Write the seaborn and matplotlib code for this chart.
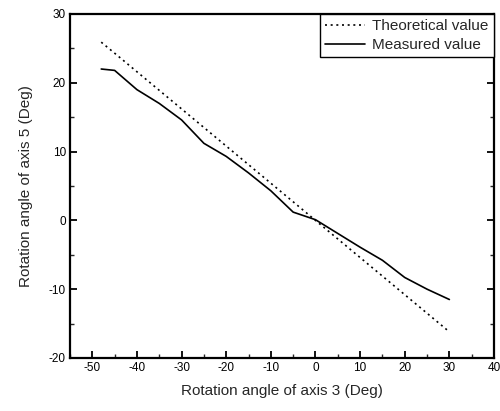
import matplotlib
matplotlib.use("Agg")
import matplotlib.pyplot as plt
import seaborn as sns
import pandas as pd
from matplotlib.ticker import MultipleLocator

sns.set_theme(style="ticks")
plt.rcParams['font.family'] = ['Liberation Sans', 'DejaVu Sans']
plt.rcParams['axes.unicode_minus'] = False

angle_axis3 = [-48, -45, -40, -35, -30, -25, -20, -15, -10, -5, 0, 5, 10, 15, 20, 25, 30]
theoretical = [25.9, 24.3, 21.6, 18.9, 16.2, 13.5, 10.8, 8.1, 5.4, 2.7, 0.0, -2.7, -5.4, -8.1, -10.8, -13.5, -16.2]
measured = [22.0, 21.8, 19.0, 17.0, 14.6, 11.2, 9.3, 6.9, 4.3, 1.2, 0.1, -1.9, -3.9, -5.8, -8.3, -10.0, -11.5]

df = pd.DataFrame({
    "x": angle_axis3 * 2,
    "y": theoretical + measured,
    "series": ["Theoretical value"] * len(angle_axis3) + ["Measured value"] * len(angle_axis3),
})

fig = plt.figure(figsize=(5.0, 4.11), dpi=100)
ax = fig.add_axes([0.14, 0.129, 0.848, 0.837])

sns.lineplot(data=df, x="x", y="y", hue="series", style="series",
             palette={"Theoretical value": "black", "Measured value": "black"},
             dashes={"Theoretical value": (1.2, 2.2), "Measured value": ""},
             linewidth=1.2, ax=ax, legend=True)

ax.set_xlim(-55, 40)
ax.set_ylim(-20, 30)
ax.xaxis.set_major_locator(MultipleLocator(10))
ax.xaxis.set_minor_locator(MultipleLocator(5))
ax.yaxis.set_major_locator(MultipleLocator(10))
ax.yaxis.set_minor_locator(MultipleLocator(5))

for s in ax.spines.values():
    s.set_visible(True)
    s.set_linewidth(1.6)
    s.set_color("black")

ax.tick_params(axis="both", which="major", direction="out", length=5, width=1.3,
               labelsize=8.5, colors="black", pad=3)
ax.tick_params(axis="both", which="minor", direction="out", length=3, width=1.0)
ax.tick_params(right=True, which="both", direction="in")

ax.set_xlabel("Rotation angle of axis 3 (Deg)", fontsize=11, labelpad=7)
ax.set_ylabel("Rotation angle of axis 5 (Deg)", fontsize=11, labelpad=11)

leg = ax.legend(loc="upper right", fontsize=11, frameon=True, fancybox=False,
                framealpha=1, edgecolor="black", borderaxespad=0.0,
                handlelength=2.6, handletextpad=0.5, borderpad=0.35, labelspacing=0.3)
leg.get_frame().set_linewidth(1.0)

fig.savefig("out.png", dpi=100)
